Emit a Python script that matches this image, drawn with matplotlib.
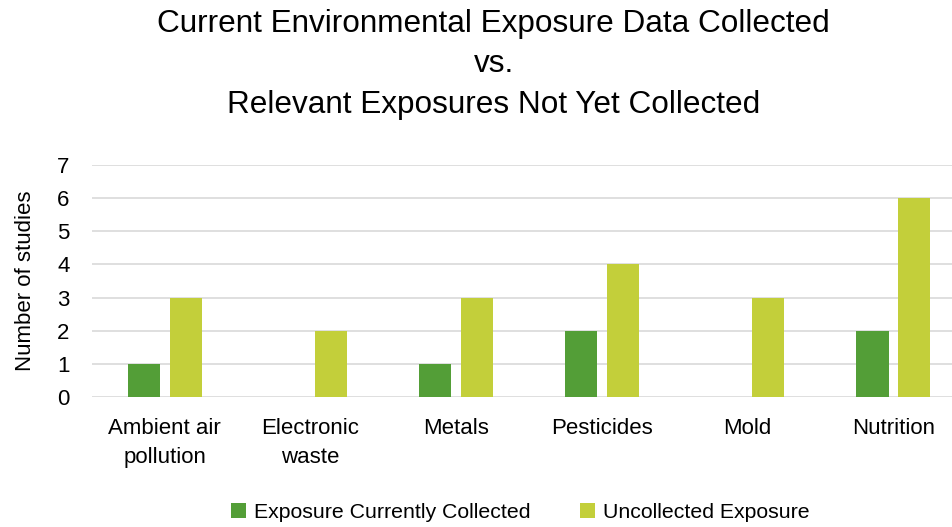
import numpy as np
import matplotlib.pyplot as plt

# data
categories = ["Ambient air\npollution", "Electronic\nwaste", "Metals", "Pesticides", "Mold", "Nutrition"]
collected = [1, 0, 1, 2, 0, 2]
uncollected = [3, 2, 3, 4, 3, 6]
y_ticks = [0, 1, 2, 3, 4, 5, 6, 7]

plt.rcParams['font.family'] = ['Liberation Sans', 'DejaVu Sans']

fig = plt.figure(figsize=(9.53, 5.27), dpi=100)
ax = fig.add_axes([0.0965, 0.2467, 0.9035, 0.4403])

x = np.arange(len(categories))
w = 0.22
off = 0.1425
ax.bar(x - off, collected, w, color="#539E37", label="Exposure Currently Collected", zorder=3)
ax.bar(x + off, uncollected, w, color="#C3CF3A", label="Uncollected Exposure", zorder=3)

ax.set_xlim(-0.5, 5.41)
ax.set_ylim(0, 7)
ax.set_yticks(y_ticks)
ax.set_xticks(x)
ax.set_xticklabels(categories, fontsize=16, linespacing=1.5)
ax.tick_params(axis='x', length=0, pad=15)
ax.tick_params(axis='y', length=0, pad=16, labelsize=16)
ax.yaxis.grid(True, color="#D9D9D9", linewidth=1.2, zorder=0)
for s in ax.spines.values():
    s.set_visible(False)
ax.set_ylabel("Number of studies", fontsize=16, labelpad=15.5)

fig.text(0.518, 0.983, "Current Environmental Exposure Data Collected\nvs.\nRelevant Exposures Not Yet Collected",
         ha='center', va='top', fontsize=22.7, linespacing=1.45)

fig.legend(loc='center', bbox_to_anchor=(0.546, 0.027), ncol=2, frameon=False, fontsize=15.3,
           handlelength=0.7, handleheight=0.7, handletextpad=0.35, columnspacing=2.35)

fig.savefig("out.png", dpi=100)
